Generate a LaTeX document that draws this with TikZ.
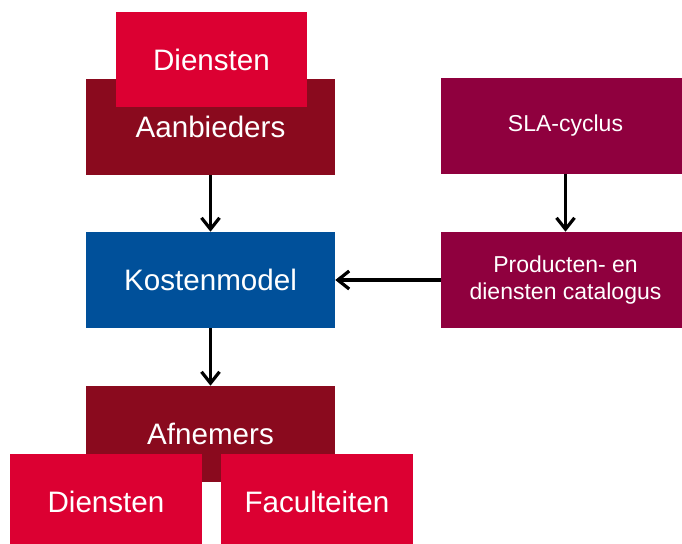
\documentclass[tikz,border=0pt]{standalone}
\usepackage{fontspec}
\setmainfont{Liberation Sans}
\usetikzlibrary{arrows.meta}
\definecolor{dienstrood}{HTML}{DC0032}
\definecolor{donkerrood}{HTML}{8A0A1E}
\definecolor{wijnrood}{HTML}{8F003E}
\definecolor{kostblauw}{HTML}{00509A}
\begin{document}
\begin{tikzpicture}[x=0.75pt,y=-0.75pt,
    blok/.style={fill=#1,text=white,inner sep=0pt,align=center,
      minimum width=186.75pt,minimum height=72pt,
      font=\fontsize{22.2}{26}\selectfont},
    klein/.style={blok=#1,minimum width=143.5pt},
    rechts/.style={blok=wijnrood,font=\fontsize{17.25}{20.5}\selectfont},
    pijl/.style={line width=2.6pt,-{Straight Barb[length=8.5pt,width=13.5pt,line width=2.4pt]}}]
        % Canvas of the slide
        \useasboundingbox (0,0) rectangle (682,543);
        \clip (0,0) rectangle (682,543);

        % Supplier side, services box on top
        \node[blok=donkerrood] (aanbieders) at (210.5,127) {Aanbieders};
        \node[klein=dienstrood,minimum height=71.25pt] (dienstenboven) at (211.5,59.5) {Diensten};

        % Cost model in the middle
        \node[blok=kostblauw] (kostenmodel) at (210.5,280) {Kostenmodel};

        % Customer side, two boxes in front
        \node[blok=donkerrood] (afnemers) at (210.5,434) {Afnemers};
        \node[klein=dienstrood] (dienstenonder) at (106,502) {Diensten};
        \node[klein=dienstrood] (faculteiten) at (317,502) {Faculteiten};

        % SLA cycle and catalogue on the right
        \node[rechts] (sla) at (565.5,126) {SLA-cyclus};
        \node[rechts] (catalogus) at (565.5,280) {Producten- en\\diensten catalogus};

        % Connectors
        \draw[pijl] (aanbieders) -- (kostenmodel);
        \draw[pijl] (kostenmodel) -- (afnemers);
        \draw[pijl] (sla) -- (catalogus);
        \draw[pijl] (catalogus) -- (kostenmodel);
    \end{tikzpicture}
\end{document}
